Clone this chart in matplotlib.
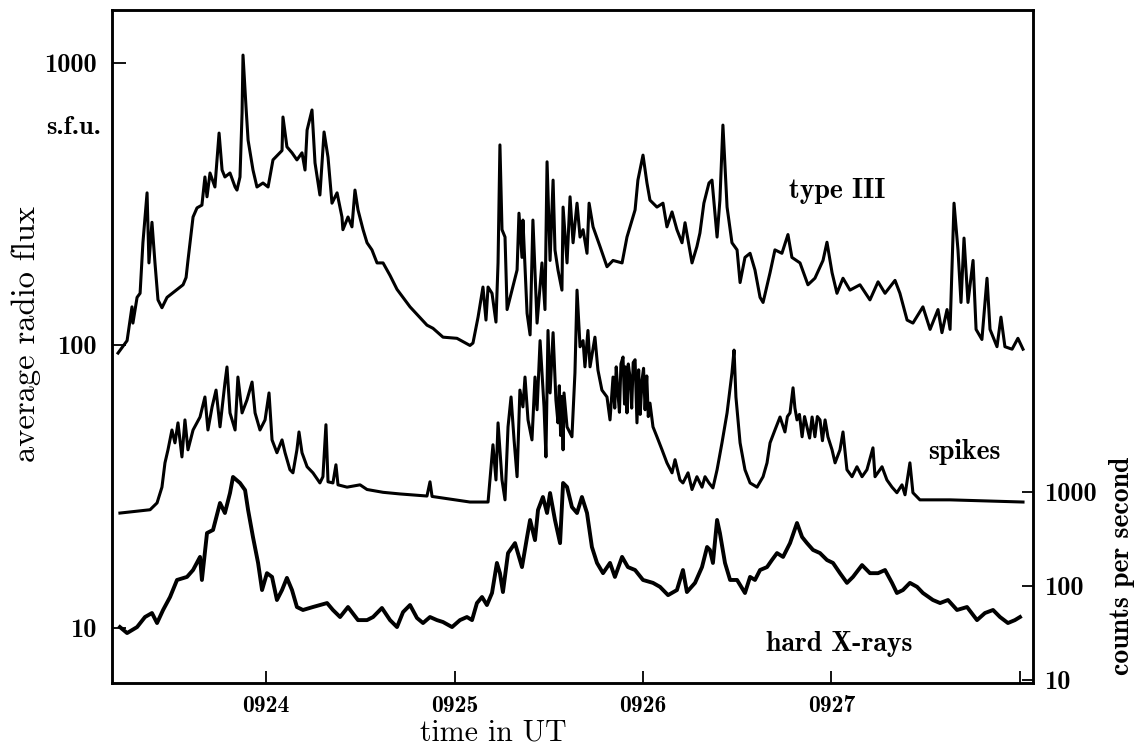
import numpy as np
import matplotlib.pyplot as plt

# time in minutes after 09:00 UT
t_type3 = [23.215, 23.263, 23.289, 23.294, 23.316, 23.332, 23.347, 23.369, 23.379, 23.395,
           23.411, 23.427, 23.448, 23.475, 23.560, 23.576, 23.586, 23.613, 23.634, 23.660,
           23.676, 23.687, 23.703, 23.729, 23.751, 23.767, 23.782, 23.809, 23.836, 23.846,
           23.862, 23.873, 23.878, 23.894, 23.905, 23.931, 23.952, 23.984, 24.011, 24.037,
           24.085, 24.090, 24.111, 24.138, 24.164, 24.191, 24.207, 24.218, 24.244, 24.260,
           24.286, 24.308, 24.329, 24.350, 24.377, 24.403, 24.408, 24.435, 24.456, 24.472,
           24.488, 24.515, 24.536, 24.562, 24.589, 24.621, 24.658, 24.695, 24.764, 24.854,
           24.886, 24.939, 25.013, 25.082, 25.098, 25.125, 25.151, 25.167, 25.178, 25.199,
           25.220, 25.231, 25.241, 25.252, 25.268, 25.279, 25.305, 25.332, 25.342, 25.358,
           25.363, 25.385, 25.401, 25.416, 25.438, 25.464, 25.480, 25.491, 25.507, 25.523,
           25.533, 25.549, 25.570, 25.576, 25.597, 25.613, 25.629, 25.650, 25.666, 25.682,
           25.703, 25.714, 25.735, 25.772, 25.809, 25.841, 25.889, 25.915, 25.958, 25.973,
           26.000, 26.021, 26.037, 26.074, 26.106, 26.127, 26.154, 26.180, 26.207, 26.223,
           26.260, 26.286, 26.302, 26.323, 26.350, 26.366, 26.393, 26.408, 26.424, 26.446,
           26.472, 26.499, 26.515, 26.541, 26.568, 26.594, 26.621, 26.637, 26.674, 26.700,
           26.737, 26.769, 26.790, 26.833, 26.875, 26.912, 26.955, 26.976, 27.003, 27.029,
           27.061, 27.098, 27.151, 27.204, 27.247, 27.284, 27.337, 27.363, 27.401, 27.432,
           27.485, 27.523, 27.565, 27.586, 27.613, 27.629, 27.650, 27.671, 27.687, 27.703,
           27.724, 27.751, 27.767, 27.798, 27.825, 27.841, 27.878, 27.899, 27.920, 27.958,
           27.989, 28.016]
flux_type3 = [94, 104, 137, 120, 148, 153, 231, 347, 196, 273,
              196, 145, 136, 148, 164, 174, 200, 285, 307, 314,
              395, 336, 408, 364, 565, 418, 395, 408, 364, 355,
              395, 665, 1067, 698, 533, 418, 364, 376, 364, 454,
              490, 644, 505, 481, 454, 481, 418, 579, 682, 443,
              341, 570, 464, 319, 347, 285, 257, 285, 263, 355,
              302, 257, 231, 218, 196, 196, 177, 158, 137, 118,
              115, 107, 106, 100, 102, 126, 161, 123, 161, 153,
              121, 196, 513, 257, 242, 134, 157, 185, 294, 205,
              278, 130, 109, 278, 120, 196, 134, 447, 200, 385,
              218, 185, 157, 309, 196, 336, 231, 319, 242, 257,
              212, 319, 263, 224, 190, 200, 196, 242, 302, 385,
              472, 376, 327, 309, 319, 263, 297, 257, 231, 272,
              196, 224, 250, 319, 376, 385, 242, 327, 603, 309,
              231, 218, 167, 205, 212, 185, 148, 142, 181, 218,
              212, 247, 205, 196, 164, 173, 200, 232, 181, 153,
              173, 157, 164, 145, 168, 153, 170, 153, 123, 120,
              137, 114, 134, 111, 134, 114, 319, 218, 142, 240,
              142, 200, 114, 105, 173, 114, 99, 126, 99, 97,
              106, 97]

t_spikes = [23.225, 23.385, 23.422, 23.448, 23.464, 23.480, 23.501, 23.517, 23.533, 23.554,
            23.570, 23.586, 23.613, 23.650, 23.676, 23.692, 23.714, 23.735, 23.756, 23.782,
            23.793, 23.809, 23.836, 23.851, 23.873, 23.899, 23.926, 23.942, 23.968, 23.995,
            24.016, 24.032, 24.058, 24.085, 24.101, 24.127, 24.143, 24.164, 24.175, 24.191,
            24.218, 24.249, 24.286, 24.302, 24.318, 24.329, 24.355, 24.371, 24.382, 24.430,
            24.499, 24.536, 24.621, 24.711, 24.854, 24.870, 24.881, 25.082, 25.178, 25.188,
            25.204, 25.220, 25.231, 25.252, 25.268, 25.284, 25.300, 25.316, 25.332, 25.347,
            25.363, 25.374, 25.390, 25.411, 25.427, 25.438, 25.454, 25.475, 25.485, 25.496,
            25.507, 25.523, 25.538, 25.549, 25.556, 25.563, 25.570, 25.576, 25.581, 25.597,
            25.623, 25.639, 25.650, 25.666, 25.682, 25.692, 25.708, 25.719, 25.745, 25.761,
            25.782, 25.809, 25.825, 25.841, 25.850, 25.858, 25.867, 25.875, 25.883, 25.894,
            25.902, 25.908, 25.915, 25.922, 25.931, 25.940, 25.948, 25.958, 25.968, 25.977,
            25.985, 25.995, 26.003, 26.011, 26.020, 26.028, 26.037, 26.053, 26.074, 26.101,
            26.127, 26.154, 26.170, 26.196, 26.212, 26.239, 26.260, 26.286, 26.313, 26.329,
            26.350, 26.371, 26.393, 26.419, 26.446, 26.472, 26.483, 26.493, 26.515, 26.541,
            26.568, 26.605, 26.637, 26.658, 26.674, 26.700, 26.727, 26.753, 26.766, 26.780,
            26.796, 26.806, 26.817, 26.830, 26.844, 26.857, 26.870, 26.884, 26.897, 26.912,
            26.925, 26.939, 26.952, 26.966, 26.981, 27.003, 27.019, 27.045, 27.061, 27.082,
            27.109, 27.135, 27.162, 27.188, 27.220, 27.231, 27.268, 27.294, 27.321, 27.347,
            27.374, 27.390, 27.416, 27.432, 27.469, 27.629, 28.016]
flux_spikes = [25.5, 26.2, 27.7, 31.5, 38.4, 42.7, 50.2, 45.2, 53.2, 40.3,
               54.5, 42.7, 50.2, 55.8, 65.7, 50.2, 60.6, 69.5, 51.5, 73.6,
               83.9, 57.7, 50.2, 77.3, 57.7, 64.1, 74.2, 57.7, 50.2, 54.5,
               67.9, 46.3, 41.7, 46.3, 41.7, 36.3, 35.4, 42.7, 49.4, 41.7,
               37.2, 35.4, 32.6, 34.3, 52.4, 32.9, 32.6, 37.8, 32.1, 31.5,
               32.1, 30.9, 30.2, 29.8, 29.3, 32.9, 29.2, 27.9, 27.9, 33.4,
               44.5, 33.4, 53.2, 33.4, 28.4, 51.5, 65.7, 46.3, 34.3, 69.5,
               60.6, 77.3, 54.5, 46.3, 77.3, 59.2, 104, 60.6, 40.3, 113,
               67.9, 111, 64.1, 53.2, 72, 48, 66, 42.7, 67.9, 51.5,
               47.5, 80, 157, 98.9, 104, 84, 113, 84, 107, 81.8,
               69.5, 65.7, 54.5, 77.3, 60, 84, 67.9, 58, 86, 91,
               62, 84, 57.7, 86, 77.3, 60, 87, 89, 53.2, 82,
               57, 75.5, 83, 59.2, 78, 56, 62.5, 51.5, 47.5, 42.7,
               38.4, 35.4, 39.4, 33.4, 32.6, 35.4, 30.9, 34.3, 31.5, 34.3,
               32.6, 31.3, 36.3, 45.2, 57.7, 80, 96.3, 65.7, 45.2, 36.3,
               32.6, 31.5, 34.3, 38.4, 45.2, 50.2, 55.8, 49.4, 56, 57.7,
               70.8, 60, 54.5, 57, 47.5, 56, 51.5, 47, 55.8, 47.5,
               56, 54.5, 46, 54.5, 47.5, 42.7, 38.4, 42.7, 49.4, 36.3,
               34.3, 37.2, 34.3, 36.3, 43.4, 34.3, 37.2, 33.4, 31.5, 30.1,
               32.1, 29.6, 38.4, 30.1, 28.4, 28.4, 27.9]

t_xray = [23.225, 23.263, 23.316, 23.358, 23.395, 23.422, 23.454, 23.491, 23.528, 23.581,
          23.613, 23.650, 23.660, 23.687, 23.719, 23.756, 23.782, 23.809, 23.825, 23.862,
          23.889, 23.905, 23.931, 23.958, 23.979, 24.005, 24.032, 24.058, 24.085, 24.111,
          24.138, 24.164, 24.196, 24.249, 24.324, 24.355, 24.393, 24.435, 24.488, 24.536,
          24.568, 24.615, 24.658, 24.695, 24.727, 24.764, 24.801, 24.833, 24.870, 24.907,
          24.939, 24.987, 25.029, 25.066, 25.093, 25.119, 25.146, 25.172, 25.199, 25.225,
          25.241, 25.257, 25.284, 25.321, 25.358, 25.385, 25.401, 25.427, 25.443, 25.469,
          25.491, 25.507, 25.533, 25.560, 25.576, 25.597, 25.623, 25.650, 25.676, 25.703,
          25.729, 25.756, 25.788, 25.825, 25.851, 25.889, 25.920, 25.958, 26.000, 26.053,
          26.090, 26.133, 26.180, 26.212, 26.233, 26.276, 26.313, 26.340, 26.355, 26.371,
          26.393, 26.408, 26.435, 26.462, 26.499, 26.541, 26.568, 26.594, 26.621, 26.658,
          26.684, 26.711, 26.743, 26.780, 26.817, 26.844, 26.870, 26.902, 26.939, 26.976,
          27.008, 27.045, 27.082, 27.114, 27.162, 27.204, 27.247, 27.284, 27.321, 27.347,
          27.379, 27.416, 27.454, 27.485, 27.538, 27.576, 27.618, 27.666, 27.719, 27.772,
          27.814, 27.857, 27.894, 27.936, 27.973, 28.000]
counts_xray = [36.6, 31.6, 36.6, 46.8, 51.6, 40.4, 55.6, 76.4, 116, 125,
               148, 204, 116, 366, 395, 764, 598, 975, 1445, 1247,
               1047, 644, 331, 176, 90.6, 137, 125, 71, 90.6, 122,
               90.6, 59.8, 55.6, 59.8, 65.9, 55.6, 46.8, 59.8, 43.4, 43.4,
               46.8, 58.4, 43.4, 36.6, 52.8, 62.8, 45.7, 40.4, 46.8, 43.4,
               41.4, 36.6, 43.4, 46.8, 43.4, 65.9, 76.4, 62.8, 84.3, 176,
               137, 86.3, 224, 286, 159, 332, 504, 308, 644, 885,
               598, 975, 504, 286, 1247, 1130, 692, 598, 885, 598,
               260, 176, 137, 176, 125, 204, 159, 148, 116, 108,
               98, 80, 90.6, 148, 86.3, 108, 159, 260, 242, 176,
               504, 366, 176, 116, 116, 84.3, 125, 116, 148, 159,
               189, 224, 204, 286, 468, 332, 286, 242, 224, 189,
               176, 137, 108, 125, 167, 137, 137, 148, 108, 84.3,
               90.6, 108, 98, 84.3, 71, 65.9, 71, 55.6, 59.8, 43.4,
               51.6, 55.6, 46.8, 40.4, 43.4, 46.8]

time_ticks = [24, 25, 26, 27, 28]
time_labels = ["0924", "0925", "0926", "0927", ""]
flux_ticks = [10, 100, 1000]
count_ticks = [10, 100, 1000]

rm = "cmr10"
bf = "cmb10"
W, H = 1136, 749

fig = plt.figure(figsize=(W / 100, H / 100), dpi=100)
ax = fig.add_axes([112 / W, 1 - 683 / H, 921 / W, 673 / H])
ax2 = ax.twinx()

ax.plot(t_type3, flux_type3, color="black", lw=2.2, solid_joinstyle="round")
ax.plot(t_spikes, flux_spikes, color="black", lw=2.2, solid_joinstyle="round")
ax2.plot(t_xray, counts_xray, color="black", lw=2.8, solid_joinstyle="round")

ax.set_yscale("log")
ax2.set_yscale("log")
ax.set_xlim(23.183, 28.069)
ax.set_ylim(6.38, 1541)
ax2.set_ylim(9.3, 1.34e8)

ax.set_xticks(time_ticks)
ax.set_xticklabels(time_labels, fontfamily=bf, fontsize=17)
ax.set_yticks(flux_ticks)
ax.set_yticklabels([str(v) for v in flux_ticks], fontfamily=bf, fontsize=19)
ax.yaxis.set_minor_locator(plt.NullLocator())
ax2.set_yticks(count_ticks)
ax2.set_yticklabels([str(v) for v in count_ticks], fontfamily=bf, fontsize=19)
ax2.yaxis.set_minor_locator(plt.NullLocator())

ax.tick_params(axis="x", which="major", direction="in", length=9, width=1.3, pad=9)
ax.tick_params(axis="y", which="major", direction="in", length=10, width=1.3, pad=11)
ax2.tick_params(axis="y", which="major", direction="in", length=8, width=1.3, pad=8)
for a in (ax, ax2):
    for s in a.spines.values():
        s.set_linewidth(1.8)

# axis titles and curve names
fig.text(493 / W, 1 - 733 / H, "time in UT", fontfamily=rm, fontsize=21.5,
         ha="center", va="center")
fig.text(26 / W, 1 - 334 / H, "average radio flux", fontfamily=rm, fontsize=23.5,
         rotation=90, ha="center", va="center")
fig.text(1122 / W, 1 - 566 / H, "counts per second", fontfamily=bf, fontsize=20,
         rotation=90, ha="center", va="center")
fig.text(74 / W, 1 - 128 / H, "s.f.u.", fontfamily=bf, fontsize=19,
         ha="center", va="center")
fig.text(837 / W, 1 - 191 / H, "type III", fontfamily=bf, fontsize=20,
         ha="center", va="center")
fig.text(964 / W, 1 - 452 / H, "spikes", fontfamily=bf, fontsize=20,
         ha="center", va="center")
fig.text(839 / W, 1 - 644 / H, "hard X-rays", fontfamily=bf, fontsize=20,
         ha="center", va="center")

fig.savefig("out.png", dpi=100)
